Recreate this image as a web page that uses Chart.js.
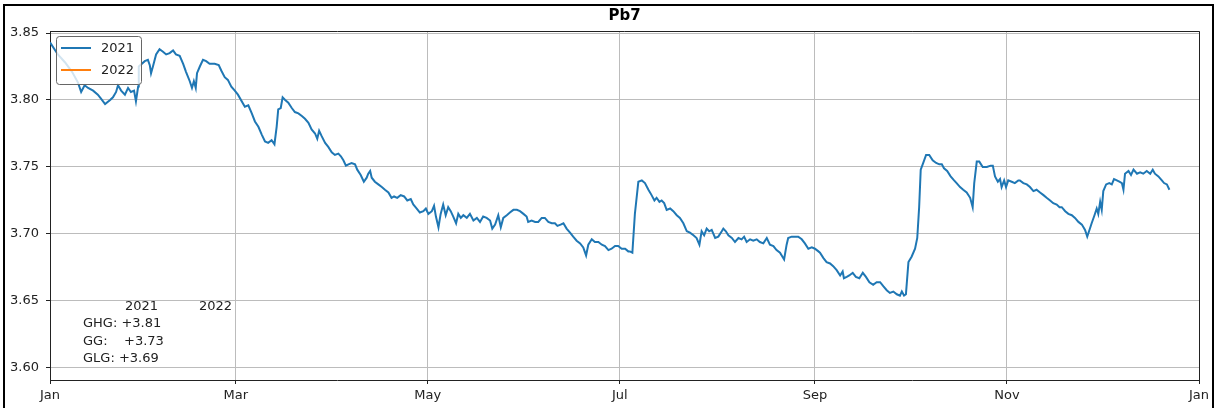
<!DOCTYPE html>
<html>
<head>
<meta charset="utf-8">
<script src="https://cdn.jsdelivr.net/npm/chart.js@4"></script>
<style>
  body { margin: 0; background: #fff; }
  canvas { display: block; }
</style>
</head>
<body>
<canvas id="pbChart" width="1215" height="408"></canvas>
<script>
// day of year (0 = Jan 1) and value
const days = [
  0, 2.5, 4.8, 7.0, 8.9, 9.9, 11.0, 12.1, 13.7, 15.2, 16.2, 17.5, 19.1, 20.0, 21.0, 21.6, 22.6, 23.8, 24.8, 25.7,
  26.7, 27.3, 28.0, 28.2, 30.1, 31.1, 31.7, 32.1, 32.7, 33.7, 34.8, 35.9, 36.9, 38.0, 39.1, 40.0, 41.2, 42.3, 43.2, 44.4,
  45.1, 45.7, 46.3, 46.7, 47.6, 48.6, 49.6, 50.7, 52.3, 53.6, 54.4, 55.5, 56.5, 57.6, 58.7, 59.7, 61.9, 63.0, 64.1, 65.1,
  66.2, 67.3, 68.3, 69.3, 70.4, 71.3, 72.0, 72.5, 73.3, 73.9, 74.7, 75.7, 76.8, 77.8, 78.9, 80.0, 81.0, 82.1, 83.1, 84.2,
  84.9, 85.5, 86.3, 87.4, 88.4, 89.5, 90.5, 91.6, 92.4, 93.2, 94.0, 94.8, 95.8, 96.9, 97.6, 98.7, 99.7, 100.6, 101.1, 101.7,
  102.2, 103.2, 104.3, 105.4, 106.4, 107.5, 108.5, 109.3, 110.3, 111.4, 112.5, 113.5, 114.6, 115.4, 116.5, 117.5, 118.6, 119.4, 120.2, 121.3,
  122.0, 122.6, 123.4, 124.1, 124.9, 125.7, 126.5, 127.3, 128.1, 129.0, 129.7, 130.5, 131.3, 132.4, 133.4, 134.5, 135.6, 136.6, 137.6, 138.7,
  139.8, 140.5, 141.4, 142.4, 143.2, 144.0, 145.1, 146.1, 147.2, 148.3, 149.3, 150.4, 151.4, 151.9, 153.0, 154.1, 155.1, 156.2, 157.2, 158.3,
  159.4, 160.4, 161.2, 162.2, 163.1, 164.1, 165.2, 166.2, 167.3, 168.4, 169.4, 170.3, 171.0, 172.1, 173.1, 174.2, 175.3, 176.3, 177.4, 178.4,
  179.5, 180.5, 181.6, 182.7, 183.7, 184.2, 185.0, 185.8, 186.9, 188.0, 189.0, 190.1, 191.1, 192.0, 192.7, 193.6, 194.3, 195.1, 195.9, 197.0,
  198.0, 199.1, 200.1, 201.2, 202.3, 203.3, 204.4, 205.4, 206.3, 207.0, 207.8, 208.6, 209.4, 210.2, 211.3, 212.3, 213.4, 213.9, 214.7, 215.5,
  216.6, 217.6, 218.7, 219.7, 220.5, 221.3, 222.4, 223.4, 224.5, 225.5, 226.6, 227.7, 228.7, 229.8, 230.8, 231.9, 233.2, 234.0, 234.5, 235.6,
  236.7, 237.7, 238.8, 239.8, 240.9, 242.0, 243.0, 244.1, 244.6, 245.7, 246.7, 247.8, 248.8, 249.9, 251.0, 251.8, 252.2, 253.1, 253.9, 255.0,
  256.0, 257.1, 258.2, 259.2, 260.3, 261.5, 262.6, 263.7, 264.7, 265.8, 266.8, 267.9, 269.0, 270.0, 270.6, 271.3, 271.9, 272.7, 273.7, 274.8,
  275.5, 276.1, 276.6, 277.4, 278.3, 279.3, 280.4, 281.5, 282.5, 283.3, 284.0, 285.0, 286.1, 287.2, 288.0, 289.1, 290.1, 291.2, 292.3, 293.1,
  293.6, 294.4, 295.2, 296.3, 297.6, 298.8, 299.5, 300.2, 301.1, 301.8, 302.3, 303.1, 303.7, 304.4, 305.5, 306.5, 307.6, 308.1, 309.2, 310.3,
  311.3, 312.4, 313.4, 314.5, 315.6, 316.6, 317.7, 318.7, 319.8, 320.7, 321.4, 322.5, 323.5, 324.6, 325.6, 326.7, 327.8, 328.8, 329.5, 330.2,
  330.9, 331.8, 332.5, 333.0, 333.6, 334.1, 334.6, 335.5, 336.5, 337.3, 338.0, 338.9, 339.7, 340.5, 341.0, 341.5, 342.6, 343.4, 344.2, 345.3,
  346.3, 347.3, 348.4, 349.5, 350.3, 351.0, 352.1, 353.2, 353.9, 354.8, 355.6
];
const values2021 = [
  3.843, 3.834, 3.828, 3.821, 3.813, 3.806, 3.811, 3.809, 3.807, 3.804, 3.801, 3.797, 3.800, 3.802, 3.806, 3.811, 3.807, 3.804, 3.809, 3.806,
  3.807, 3.799, 3.810, 3.825, 3.829, 3.830, 3.826, 3.820, 3.825, 3.834, 3.838, 3.836, 3.834, 3.835, 3.837, 3.834, 3.833, 3.827, 3.821, 3.814,
  3.809, 3.814, 3.809, 3.820, 3.825, 3.830, 3.829, 3.827, 3.827, 3.826, 3.822, 3.817, 3.815, 3.810, 3.807, 3.804, 3.795, 3.796, 3.790, 3.784,
  3.780, 3.774, 3.769, 3.768, 3.770, 3.767, 3.780, 3.793, 3.794, 3.802, 3.800, 3.798, 3.794, 3.791, 3.790, 3.788, 3.786, 3.783, 3.778, 3.775,
  3.771, 3.777, 3.773, 3.768, 3.765, 3.761, 3.759, 3.760, 3.758, 3.755, 3.751, 3.752, 3.753, 3.752, 3.748, 3.744, 3.739, 3.742, 3.745, 3.747,
  3.742, 3.739, 3.737, 3.735, 3.733, 3.731, 3.727, 3.728, 3.727, 3.729, 3.728, 3.725, 3.726, 3.722, 3.719, 3.716, 3.717, 3.719, 3.715, 3.717,
  3.721, 3.713, 3.705, 3.715, 3.722, 3.714, 3.720, 3.717, 3.713, 3.708, 3.715, 3.712, 3.714, 3.712, 3.715, 3.710, 3.712, 3.709, 3.713, 3.712,
  3.710, 3.704, 3.707, 3.714, 3.705, 3.712, 3.714, 3.716, 3.718, 3.718, 3.717, 3.715, 3.713, 3.709, 3.710, 3.709, 3.709, 3.712, 3.712, 3.709,
  3.708, 3.708, 3.706, 3.707, 3.708, 3.704, 3.701, 3.698, 3.695, 3.693, 3.690, 3.684, 3.692, 3.696, 3.694, 3.694, 3.692, 3.691, 3.688, 3.689,
  3.691, 3.691, 3.689, 3.689, 3.687, 3.687, 3.686, 3.715, 3.739, 3.740, 3.738, 3.733, 3.729, 3.725, 3.727, 3.724, 3.725, 3.723, 3.718, 3.719,
  3.717, 3.714, 3.712, 3.708, 3.702, 3.701, 3.699, 3.697, 3.692, 3.702, 3.699, 3.704, 3.702, 3.703, 3.697, 3.698, 3.702, 3.704, 3.702, 3.699,
  3.697, 3.694, 3.697, 3.696, 3.698, 3.694, 3.696, 3.695, 3.696, 3.694, 3.693, 3.697, 3.692, 3.691, 3.688, 3.686, 3.681, 3.692, 3.697, 3.698,
  3.698, 3.698, 3.696, 3.693, 3.689, 3.690, 3.689, 3.687, 3.686, 3.682, 3.679, 3.678, 3.676, 3.673, 3.669, 3.672, 3.667, 3.668, 3.669, 3.671,
  3.668, 3.667, 3.671, 3.668, 3.664, 3.662, 3.664, 3.664, 3.661, 3.658, 3.656, 3.657, 3.655, 3.654, 3.657, 3.654, 3.655, 3.679, 3.683, 3.689,
  3.697, 3.720, 3.748, 3.753, 3.759, 3.759, 3.755, 3.753, 3.752, 3.752, 3.749, 3.747, 3.743, 3.740, 3.738, 3.735, 3.733, 3.731, 3.727, 3.720,
  3.738, 3.754, 3.754, 3.750, 3.750, 3.751, 3.751, 3.743, 3.739, 3.741, 3.735, 3.740, 3.735, 3.740, 3.739, 3.738, 3.740, 3.740, 3.738, 3.737,
  3.735, 3.732, 3.733, 3.731, 3.729, 3.727, 3.725, 3.723, 3.722, 3.720, 3.720, 3.717, 3.715, 3.714, 3.712, 3.709, 3.707, 3.703, 3.698, 3.703,
  3.708, 3.714, 3.719, 3.715, 3.724, 3.718, 3.732, 3.737, 3.738, 3.737, 3.741, 3.740, 3.739, 3.738, 3.733, 3.745, 3.747, 3.744, 3.748, 3.745,
  3.746, 3.745, 3.747, 3.745, 3.748, 3.745, 3.743, 3.740, 3.738, 3.737, 3.733
];
const values2022 = [];

const seriesNames = ['2021', '2022'];
const seriesColors = ['#1f77b4', '#ff7f0e'];
const yTicks = [3.60, 3.65, 3.70, 3.75, 3.80, 3.85];
const monthDays = [0, 59, 120, 181, 243, 304, 365];
const monthLabels = ['Jan', 'Mar', 'May', 'Jul', 'Sep', 'Nov', 'Jan'];
const statHeader = ['2021', '2022'];
const statLines = ['GHG: +3.81', 'GG:    +3.73', 'GLG: +3.69'];
const chartTitle = 'Pb7';

Chart.defaults.font.family = 'DejaVu Sans';
Chart.defaults.font.size = 13;
Chart.defaults.color = '#222';

const toPoints = (xs, ys) => ys.map((v, i) => ({ x: xs[i], y: v }));

// frame, title, legend box and the text block
const decorations = {
    id: 'decorations',
    afterDraw(chart) {
        const ctx = chart.ctx;
        const a = chart.chartArea;
        ctx.save();

        // figure frame
        ctx.strokeStyle = '#000';
        ctx.lineWidth = 2;
        ctx.strokeRect(4, 5, 1209, 412);

        // top and right spines
        ctx.strokeStyle = '#222';
        ctx.lineWidth = 1;
        ctx.beginPath();
        ctx.moveTo(a.left, a.top + 0.5);
        ctx.lineTo(a.right + 0.5, a.top + 0.5);
        ctx.lineTo(a.right + 0.5, a.bottom);
        ctx.stroke();

        // title
        ctx.fillStyle = '#000';
        ctx.font = 'bold 15px DejaVu Sans';
        ctx.textAlign = 'center';
        ctx.textBaseline = 'middle';
        ctx.fillText(chartTitle, (a.left + a.right) / 2, 16);

        // legend
        ctx.beginPath();
        ctx.roundRect(56.5, 36.5, 85, 48, 3);
        ctx.fillStyle = 'rgba(255,255,255,0.8)';
        ctx.fill();
        ctx.strokeStyle = '#666';
        ctx.lineWidth = 1;
        ctx.stroke();
        ctx.font = '13px DejaVu Sans';
        ctx.textAlign = 'left';
        seriesNames.forEach((name, i) => {
            const y = 48 + i * 22;
            ctx.strokeStyle = seriesColors[i];
            ctx.lineWidth = 2;
            ctx.beginPath();
            ctx.moveTo(61, y);
            ctx.lineTo(91, y);
            ctx.stroke();
            ctx.fillStyle = '#222';
            ctx.fillText(name, 101, y + 1);
        });

        // stats text
        ctx.fillStyle = '#222';
        ctx.fillText(statHeader[0], 125, 307);
        ctx.fillText(statHeader[1], 199, 307);
        statLines.forEach((t, i) => ctx.fillText(t, 83, 324 + i * 17.5));

        ctx.restore();
    }
};

new Chart(document.getElementById('pbChart'), {
    type: 'line',
    data: {
        datasets: [
            {
                label: seriesNames[0],
                data: toPoints(days, values2021),
                borderColor: seriesColors[0],
                borderWidth: 2,
                pointRadius: 0,
                tension: 0
            },
            {
                label: seriesNames[1],
                data: toPoints(days, values2022),
                borderColor: seriesColors[1],
                borderWidth: 2,
                pointRadius: 0
            }
        ]
    },
    options: {
        responsive: false,
        animation: false,
        devicePixelRatio: 1,
        layout: { padding: { left: 0, top: 31, right: 16, bottom: 0 } },
        plugins: {
            legend: { display: false },
            tooltip: { enabled: false },
            title: { display: false }
        },
        scales: {
            x: {
                type: 'linear',
                min: 0,
                max: 365,
                afterBuildTicks: s => { s.ticks = monthDays.map(v => ({ value: v })); },
                afterFit: s => { s.height = 28; },
                ticks: {
                    autoSkip: false,
                    maxRotation: 0,
                    padding: 4,
                    callback: (v) => monthLabels[monthDays.indexOf(v)]
                },
                grid: { color: '#bcbcbc', lineWidth: 1, tickLength: 4, tickColor: '#222' },
                border: { color: '#222', width: 1 }
            },
            y: {
                min: 3.591,
                max: 3.8515,
                afterBuildTicks: s => { s.ticks = yTicks.map(v => ({ value: v })); },
                afterFit: s => { s.width = 50; },
                ticks: {
                    padding: 7,
                    callback: v => v.toFixed(2)
                },
                grid: { color: '#bcbcbc', lineWidth: 1, tickLength: 4, tickColor: '#222' },
                border: { color: '#222', width: 1 }
            }
        }
    },
    plugins: [decorations]
});
</script>
</body>
</html>
